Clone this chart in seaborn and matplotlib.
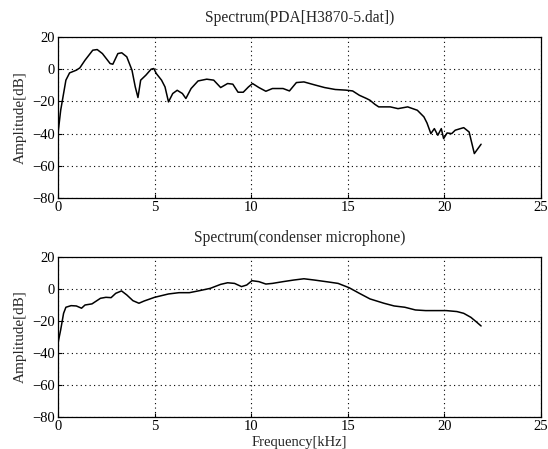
"""Two spectra: PDA recording vs condenser microphone"""
import numpy as np
import pandas as pd
import matplotlib
matplotlib.use("Agg")
import matplotlib.pyplot as plt
import seaborn as sns


# PDA[H3870-5.dat] spectrum
pda_freq = [0.0, 0.14, 0.41, 0.6, 0.95, 1.13, 1.4, 1.8, 2.03, 2.3, 2.7, 2.84, 3.1, 3.3,
            3.56, 3.83, 4.0, 4.14, 4.28, 4.55, 4.82, 4.96, 5.09, 5.36, 5.54, 5.72, 5.94,
            6.17, 6.44, 6.62, 6.89, 7.25, 7.7, 8.06, 8.42, 8.78, 9.05, 9.32, 9.59, 9.86,
            10.07, 10.4, 10.76, 11.1, 11.65, 11.98, 12.34, 12.73, 13.27, 13.8, 14.35,
            14.9, 15.25, 15.6, 15.97, 16.15, 16.4, 16.6, 16.87, 17.2, 17.6, 18.1, 18.6,
            18.94, 19.1, 19.3, 19.48, 19.66, 19.84, 19.96, 20.14, 20.38, 20.56, 20.83,
            21.0, 21.28, 21.55, 21.9]
pda_amp = [-40, -25.5, -6.8, -2.3, -0.6, 0.8, 5.6, 11.8, 12.2, 9.7, 3.5, 3.1, 9.7, 10.2,
           7.7, -0.6, -11, -17.6, -6.8, -3.7, 0, 0.4, -2.7, -6.8, -11, -20.3, -15.1,
           -13.1, -15.1, -18.2, -12, -7.3, -6.2, -6.8, -11.4, -8.9, -9.3, -14.3, -14.3, -11,
           -8.9, -11.4, -13.7, -12, -12, -13.5, -8.3, -7.9, -9.7, -11.4, -12.6,
           -13, -13.5, -16.2, -18.2, -19.3, -21.8, -23.4, -23.4, -23.4, -24.5, -23.4, -25.5,
           -29.6, -33.4, -40, -36.9, -41, -36.9, -43.1, -39.6, -40, -37.9, -36.9,
           -36.3, -39, -52.4, -46.6]

# condenser microphone spectrum
mic_freq = [0.0, 0.14, 0.29, 0.41, 0.68, 0.95, 1.22, 1.4, 1.76, 2.2, 2.48, 2.75, 2.99,
            3.29, 3.56, 3.88, 4.19, 4.46, 5.0, 5.72, 6.26, 6.8, 7.34, 7.88, 8.42, 8.78,
            9.14, 9.5, 9.77, 10.04, 10.4, 10.76, 11.1, 11.65, 12.2, 12.73, 13.27, 13.99,
            14.5, 15.07, 15.6, 16.15, 16.87, 17.4, 17.95, 18.5, 19.03, 19.57, 20.1, 20.65,
            21.0, 21.37, 21.64, 21.9]
mic_amp = [-33.9, -25.5, -15.2, -11.4, -10.4, -10.6, -12, -10, -9.3, -5.8, -5.2, -5.4, -2.7,
           -1.2, -3.7, -7.3, -8.9, -7.5, -5.2, -3.1, -2.3, -2.3, -1.0, 0.4, 2.9, 3.9,
           3.5, 1.5, 2.5, 5.2, 4.6, 3.1, 3.5, 4.6, 5.6, 6.4, 5.6, 4.4,
           3.5, 0.8, -2.7, -6.2, -8.9, -10.6, -11.4, -13.1, -13.5, -13.5, -13.5, -14.1,
           -15.2, -17.7, -20.4, -23.1]

titles = ["Spectrum(PDA[H3870-5.dat])", "Spectrum(condenser microphone)"]
x_ticks = [0, 5, 10, 15, 20, 25]
y_ticks = [20, 0, -20, -40, -60, -80]

sns.set_style("ticks")
plt.rcParams["font.family"] = ["Liberation Serif", "DejaVu Serif"]
plt.rcParams["font.size"] = 10

fig = plt.figure(figsize=(5.48, 4.49), dpi=100)
ax_top = fig.add_axes([0.1058, 0.559, 0.8814, 0.3586])
ax_bot = fig.add_axes([0.1058, 0.0713, 0.8814, 0.3563])

series = [(pda_freq, pda_amp), (mic_freq, mic_amp)]
for ax, (f, a), title in zip([ax_top, ax_bot], series, titles):
    df = pd.DataFrame({"freq": f, "amp": a})
    sns.lineplot(data=df, x="freq", y="amp", ax=ax, color="black", linewidth=1.1,
                 estimator=None, sort=False)
    ax.set_xlim(0, 25)
    ax.set_ylim(-80, 20)
    ax.set_xticks(x_ticks)
    ax.set_yticks(y_ticks)
    ax.set_xticklabels([str(t) for t in x_ticks])
    ax.set_yticklabels([str(t).replace("-", "\u2212") for t in y_ticks])
    ax.grid(True, color="black", linestyle=(0, (1, 3)), linewidth=0.8)
    ax.tick_params(direction="in", length=3, width=0.8, colors="black", pad=2,
                   labelsize=10.5)
    for sp in ax.spines.values():
        sp.set_visible(True)
        sp.set_color("black")
        sp.set_linewidth(0.9)
    ax.set_title(title, fontsize=11.2, pad=11)
    ax.set_ylabel("Amplitude[dB]", fontsize=11, labelpad=4)
    ax.set_xlabel("")

ax_bot.set_xlabel("Frequency[kHz]", fontsize=10.5, labelpad=2)

fig.savefig("out.png", dpi=100, facecolor="white")
